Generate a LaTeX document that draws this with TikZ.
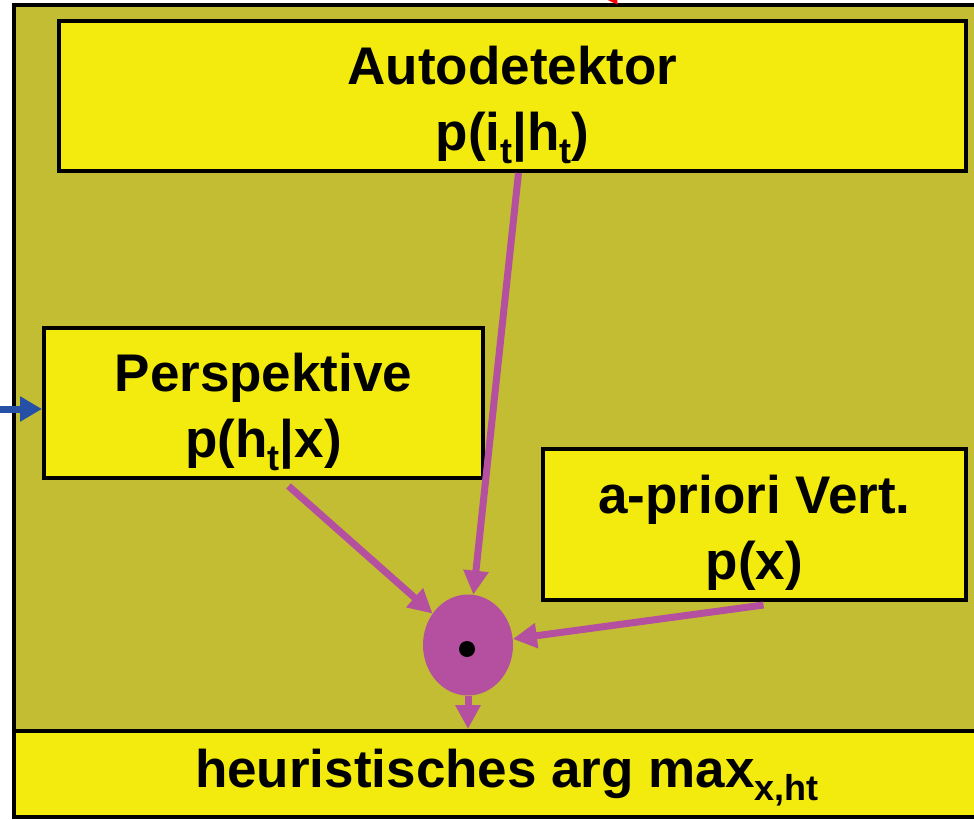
\documentclass[tikz,border=0pt]{standalone}
\usepackage{fontspec}
\setmainfont{Liberation Sans}
\usetikzlibrary{arrows.meta,shapes.geometric}
\definecolor{frameolive}{HTML}{C2BD33}
\definecolor{boxyellow}{HTML}{F3EA0E}
\definecolor{arrowmag}{HTML}{B54FA0}
\definecolor{feedblue}{HTML}{2650A5}
\newcommand\lowtxt[1]{\raisebox{-0.24em}[0pt][0pt]{\fontsize{36}{36}\selectfont #1}}
\newcommand\topstrut{\rule{0pt}{55pt}}
\begin{document}
\begin{tikzpicture}[x=1pt,y=-1pt,
  box/.style={draw=black,line width=4pt,fill=boxyellow,align=center,inner sep=0pt,
    font=\bfseries\fontsize{53}{66}\selectfont},
  flow/.style={draw=arrowmag,line width=7pt,-{Triangle[width=24pt,length=24pt]}},
  feed/.style={draw=feedblue,line width=7pt,-{Triangle[width=24pt,length=22pt]}}]
  \useasboundingbox (0,0) rectangle (974,819);
  \clip (0,0) rectangle (974,819);
  \draw[line width=4pt,fill=frameolive] (14,5) rectangle (1000,817);

  \node[box,minimum width=907pt,minimum height=150pt] (auto) at (512.5,96) {\topstrut Autodetektor\\p(i\lowtxt{t}|h\lowtxt{t})};
  \node[box,minimum width=439pt,minimum height=150pt] (persp) at (263.5,403) {\topstrut Perspektive\\p(h\lowtxt{t}|x)};
  \node[box,minimum width=423pt,minimum height=151pt] (prior) at (754.5,524.5) {\topstrut a-priori Vert.\\p(x)};
  \node[box,minimum width=986pt,minimum height=86pt] (res) at (507,774) {heuristisches arg max\lowtxt{x,ht}};

  \node[ellipse,fill=arrowmag,minimum width=90pt,minimum height=101pt,inner sep=0pt] (mul) at (468,645) {};
  \node[circle,fill=black,minimum size=16pt,inner sep=0pt] (dot) at (467,649) {};

  \draw[flow] ([xshift=6pt]auto.south) -- (mul);
  \draw[flow] ([xshift=25pt,yshift=-6pt]persp.south) -- (mul);
  \draw[flow] ([xshift=9pt,yshift=-3pt]prior.south) -- (mul);
  \draw[flow] (mul.south) -- (mul.south |- res.north);

  \coordinate (leftin) at (-5,409);
  \draw[feed] (leftin) -- (leftin -| persp.west);
  \coordinate (topin) at (585,-40);
  \coordinate (toptip) at (618,5);
  \draw[draw=red,line width=6pt,-{Triangle[width=20pt,length=20pt]}] (topin) -- (toptip);
\end{tikzpicture}
\end{document}
